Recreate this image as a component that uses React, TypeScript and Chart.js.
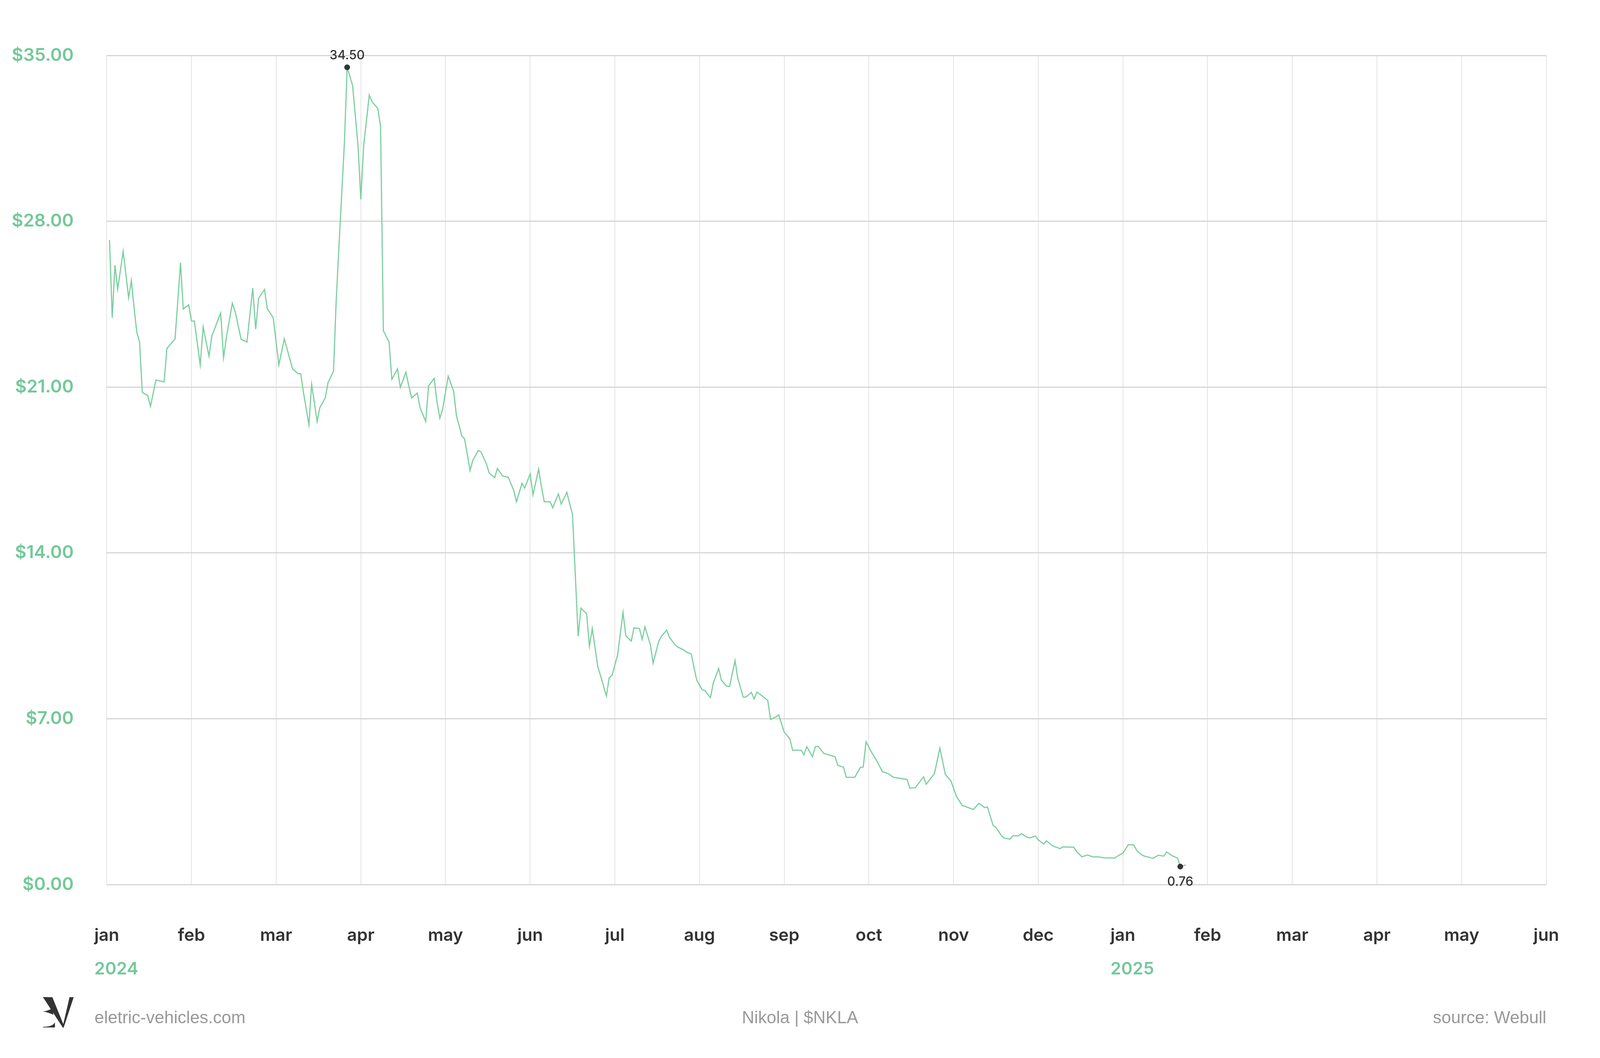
import { Chart, registerables } from 'chart.js';
import { useEffect, useRef } from 'react';

Chart.register(...registerables);

const monthLabels = ['jan', 'feb', 'mar', 'apr', 'may', 'jun', 'jul', 'aug', 'sep', 'oct', 'nov', 'dec', 'jan', 'feb', 'mar', 'apr', 'may', 'jun'];
const yearMonths = [0, 12];
const yearNames = ['2024', '2025'];
const priceTicks = [0, 7, 14, 21, 28, 35];

const dates = [
	'2024-01-02', '2024-01-03', '2024-01-04', '2024-01-05', '2024-01-07', '2024-01-09', '2024-01-10', '2024-01-11', '2024-01-12', '2024-01-13',
	'2024-01-14', '2024-01-16', '2024-01-17', '2024-01-19', '2024-01-22', '2024-01-23', '2024-01-26', '2024-01-28', '2024-01-29', '2024-01-31',
	'2024-02-01', '2024-02-02', '2024-02-04', '2024-02-05', '2024-02-07', '2024-02-08', '2024-02-11', '2024-02-12', '2024-02-13', '2024-02-15',
	'2024-02-16', '2024-02-18', '2024-02-20', '2024-02-22', '2024-02-23', '2024-02-24', '2024-02-26', '2024-02-27', '2024-02-29',
	'2024-03-01', '2024-03-02', '2024-03-04', '2024-03-07', '2024-03-09', '2024-03-10', '2024-03-11', '2024-03-13', '2024-03-14', '2024-03-16',
	'2024-03-17', '2024-03-19', '2024-03-20', '2024-03-22', '2024-03-23', '2024-03-24', '2024-03-25', '2024-03-26', '2024-03-27', '2024-03-29',
	'2024-03-31',
	'2024-04-01', '2024-04-02', '2024-04-04', '2024-04-05', '2024-04-07', '2024-04-08', '2024-04-09', '2024-04-11', '2024-04-12', '2024-04-14',
	'2024-04-15', '2024-04-17', '2024-04-18', '2024-04-19', '2024-04-21', '2024-04-22', '2024-04-24', '2024-04-25', '2024-04-27', '2024-04-28',
	'2024-04-29', '2024-04-30',
	'2024-05-02', '2024-05-04', '2024-05-05', '2024-05-07', '2024-05-08', '2024-05-10', '2024-05-11', '2024-05-13', '2024-05-14', '2024-05-16',
	'2024-05-17', '2024-05-19', '2024-05-20', '2024-05-22', '2024-05-24', '2024-05-26', '2024-05-27', '2024-05-29', '2024-05-30',
	'2024-06-01', '2024-06-02', '2024-06-04', '2024-06-05', '2024-06-06', '2024-06-08', '2024-06-09', '2024-06-11', '2024-06-12', '2024-06-14',
	'2024-06-15', '2024-06-16', '2024-06-18', '2024-06-19', '2024-06-21', '2024-06-22', '2024-06-23', '2024-06-25', '2024-06-26', '2024-06-28',
	'2024-06-29', '2024-06-30',
	'2024-07-02', '2024-07-04', '2024-07-05', '2024-07-07', '2024-07-08', '2024-07-10', '2024-07-11', '2024-07-12', '2024-07-14', '2024-07-15',
	'2024-07-17', '2024-07-18', '2024-07-20', '2024-07-21', '2024-07-23', '2024-07-24', '2024-07-26', '2024-07-27', '2024-07-29', '2024-07-30',
	'2024-07-31',
	'2024-08-02', '2024-08-03', '2024-08-05', '2024-08-06', '2024-08-08', '2024-08-09', '2024-08-11', '2024-08-12', '2024-08-14', '2024-08-15',
	'2024-08-17', '2024-08-18', '2024-08-20', '2024-08-21', '2024-08-22', '2024-08-24', '2024-08-26', '2024-08-27', '2024-08-29', '2024-08-30',
	'2024-09-01', '2024-09-03', '2024-09-04', '2024-09-07', '2024-09-08', '2024-09-09', '2024-09-11', '2024-09-12', '2024-09-13', '2024-09-15',
	'2024-09-19', '2024-09-20', '2024-09-22', '2024-09-23', '2024-09-26', '2024-09-28', '2024-09-29', '2024-09-30',
	'2024-10-02', '2024-10-04', '2024-10-06', '2024-10-08', '2024-10-10', '2024-10-15', '2024-10-16', '2024-10-18', '2024-10-21', '2024-10-22',
	'2024-10-25', '2024-10-27', '2024-10-29', '2024-10-31',
	'2024-11-01', '2024-11-02', '2024-11-04', '2024-11-08', '2024-11-10', '2024-11-12', '2024-11-13', '2024-11-15', '2024-11-16', '2024-11-18',
	'2024-11-19', '2024-11-21', '2024-11-22', '2024-11-24', '2024-11-25', '2024-11-27', '2024-11-28', '2024-11-30',
	'2024-12-01', '2024-12-03', '2024-12-04', '2024-12-06', '2024-12-07', '2024-12-09', '2024-12-10', '2024-12-14', '2024-12-15', '2024-12-17',
	'2024-12-19', '2024-12-21', '2024-12-23', '2024-12-25', '2024-12-29', '2024-12-30',
	'2025-01-01', '2025-01-03', '2025-01-05', '2025-01-06', '2025-01-08', '2025-01-09', '2025-01-11', '2025-01-12', '2025-01-14', '2025-01-16',
	'2025-01-17', '2025-01-19', '2025-01-21', '2025-01-22', '2025-01-24',
];

const prices = [
	27.21, 23.93, 26.15, 25.13, 26.73, 24.77, 25.5, 24.34, 23.31, 22.9,
	20.78, 20.64, 20.19, 21.3, 21.22, 22.63, 23.04, 26.25, 24.3, 24.47,
	23.79, 23.79, 21.94, 23.54, 22.31, 23.16, 24.13, 22.24, 23.13, 24.54,
	24.17, 23.02, 22.9, 25.18, 23.45, 24.75, 25.12, 24.3, 23.93,
	22.9, 21.94, 23.04, 21.77, 21.57, 21.57, 20.78, 19.41, 21.12, 19.55,
	20.13, 20.55, 21.19, 21.67, 24.68, 26.93, 29.12, 31.31, 34.5, 33.73,
	31.17,
	28.92, 31.17, 33.33, 33.04, 32.77, 32.02, 23.38, 22.9, 21.33, 21.77,
	20.99, 21.63, 21.05, 20.54, 20.75, 20.13, 19.55, 21.05, 21.37, 20.37,
	19.69, 20.07,
	21.46, 20.82, 19.8, 18.94, 18.81, 17.48, 17.91, 18.32, 18.27, 17.75,
	17.37, 17.18, 17.56, 17.24, 17.19, 16.63, 16.16, 16.94, 16.74,
	17.34, 16.45, 17.54, 16.79, 16.16, 16.16, 15.91, 16.49, 16.06, 16.56,
	16.07, 15.63, 10.48, 11.67, 11.43, 10.06, 10.81, 9.17, 8.8, 7.96,
	8.73, 8.83,
	9.69, 11.49, 10.51, 10.28, 10.84, 10.81, 10.35, 10.88, 10.13, 9.35,
	10.24, 10.48, 10.74, 10.44, 10.13, 10.03, 9.92, 9.83, 9.73, 9.14,
	8.63,
	8.22, 8.19, 7.89, 8.49, 9.12, 8.63, 8.37, 8.36, 9.46, 8.71,
	7.91, 7.92, 8.11, 7.84, 8.13, 7.96, 7.77, 6.97, 7.08, 7.16,
	6.44, 6.15, 5.67, 5.67, 5.48, 5.82, 5.4, 5.82, 5.84, 5.54,
	5.4, 5.03, 4.96, 4.53, 4.53, 4.95, 4.96, 6.03,
	5.58, 5.2, 4.76, 4.69, 4.53, 4.44, 4.07, 4.09, 4.55, 4.24,
	4.69, 5.76, 4.65, 4.38,
	4.07, 3.73, 3.35, 3.17, 3.43, 3.25, 3.28, 2.5, 2.41, 2.06,
	1.96, 1.92, 2.06, 2.06, 2.15, 2.0, 1.97, 2.05,
	1.89, 1.71, 1.85, 1.66, 1.6, 1.52, 1.59, 1.58, 1.4, 1.17,
	1.25, 1.17, 1.17, 1.13, 1.12, 1.2,
	1.33, 1.69, 1.67, 1.45, 1.24, 1.2, 1.14, 1.11, 1.24, 1.2,
	1.38, 1.22, 1.12, 0.76, 0.83,
];

const siteName = 'eletric-vehicles.com';
const chartTitle = 'Nikola | $NKLA';
const sourceText = 'source: Webull';

const GREEN = '#72c999';
const LINE_GREEN = '#7ccfa0';
const DARK = '#333333';

// the layout below was measured on a 6144 x 2709 frame
const BASE_W = 6144;
const BASE_H = 2709;

// position on the month axis: one unit per calendar month
function monthPosition(date: string) {
	const [y, m, d] = date.split('-').map(Number);
	const daysInMonth = new Date(y, m, 0).getDate();
	return (y - 2024) * 12 + (m - 1) + (d - 1) / daysInMonth;
}

const logoV = new Path2D('M0 0 L36 0 L80 108 L77 118 Z M102 0 L118 0 L79 118 L76 112 Z');
const logoE = new Path2D(
	'M0 55 Q22 52 34 43 L38 56 L40 68 Q22 58 0 55 Z M0 116 L46 116 L46 96 Q40 113 0 114 Z M0 0 L20 0 L20 2 Q10 2 0 2 Z'
);

function makeOverlay(sx: number, sy: number) {
	const s = Math.min(sx, sy);
	return {
		id: 'overlay',
		afterDraw(chart: Chart) {
			const { ctx, scales } = chart;
			const x = scales.x;
			const meta = chart.getDatasetMeta(0);
			const maxIdx = prices.indexOf(Math.max(...prices));
			const minIdx = prices.indexOf(Math.min(...prices));

			ctx.save();
			// max / min value labels
			ctx.fillStyle = DARK;
			ctx.font = `500 ${48 * s}px Inter`;
			ctx.textAlign = 'center';
			ctx.textBaseline = 'alphabetic';
			const top = meta.data[maxIdx];
			ctx.fillText(prices[maxIdx].toFixed(2), top.x, top.y - 20 * sy);
			const bottom = meta.data[minIdx];
			ctx.fillText(prices[minIdx].toFixed(2), bottom.x, bottom.y + 26 * sy + 35 * s);

			// year labels under the january ticks
			ctx.textAlign = 'left';
			ctx.font = `600 ${66 * s}px Inter`;
			yearMonths.forEach((m, i) => {
				const w = ctx.measureText(monthLabels[m]).width;
				ctx.fillStyle = GREEN;
				ctx.fillText(yearNames[i], x.getPixelForValue(m) - w / 2, x.top + 230 * sy);
			});

			// footer
			const baseY = 2620 * sy;
			ctx.fillStyle = '#999999';
			ctx.font = `${66 * s}px "Liberation Sans", Arial, sans-serif`;
			ctx.textAlign = 'left';
			ctx.fillText(siteName, 363 * sx, baseY);
			ctx.textAlign = 'center';
			ctx.fillText(chartTitle, chart.width / 2, baseY);
			ctx.textAlign = 'right';
			ctx.fillText(sourceText, chart.chartArea.right, baseY);

			// logo, bottom aligned with the footer line
			ctx.translate(165 * sx, 2632 * sy - 118 * s);
			ctx.scale(s, s);
			ctx.fillStyle = DARK;
			ctx.fill(logoV);
			ctx.fill(logoE);
			ctx.restore();
		},
	};
}

export default function App() {
	const canvasRef = useRef<HTMLCanvasElement | null>(null);
	const chartRef = useRef<Chart | null>(null);

	useEffect(() => {
		if (!canvasRef.current) return;
		if (chartRef.current) chartRef.current.destroy();

		document.body.style.margin = '0';
		const sx = window.innerWidth / BASE_W;
		const sy = window.innerHeight / BASE_H;
		const s = Math.min(sx, sy);

		const maxIdx = prices.indexOf(Math.max(...prices));
		const minIdx = prices.indexOf(Math.min(...prices));

		const xFont = 66 * s;

		chartRef.current = new Chart(canvasRef.current, {
			type: 'line',
			data: {
				datasets: [
					{
						label: 'NKLA',
						data: dates.map((d, i) => ({ x: monthPosition(d), y: prices[i] })),
						borderColor: LINE_GREEN,
						borderWidth: 4.5 * s,
						tension: 0,
						fill: false,
						pointRadius: (c: any) => (c.dataIndex === maxIdx || c.dataIndex === minIdx ? 11 * s : 0),
						pointBackgroundColor: DARK,
						pointBorderWidth: 0,
					},
				],
			},
			options: {
				animation: false,
				responsive: true,
				maintainAspectRatio: false,
				events: [],
				layout: { padding: { top: 142 * sy, right: 97 * sx, left: 0, bottom: 0 } },
				plugins: {
					legend: { display: false },
					tooltip: { enabled: false },
				},
				scales: {
					x: {
						type: 'linear',
						min: 0,
						max: monthLabels.length - 1,
						afterBuildTicks: (scale: any) => {
							scale.ticks = monthLabels.map((_, i) => ({ value: i }));
						},
						afterFit: (scale: any) => {
							scale.height = 444 * sy;
						},
						ticks: {
							autoSkip: false,
							maxRotation: 0,
							// puts the month baseline about 147px (reference frame) under the axis
							padding: 147 * sy - 0.96 * xFont,
							color: DARK,
							font: { family: 'Inter', size: xFont, weight: 600 },
							callback: (v: any) => monthLabels[Number(v)],
						},
						grid: { color: '#e4e4e4', lineWidth: 3 * s, drawTicks: false },
						border: { display: false },
					},
					y: {
						min: 0,
						max: 35,
						afterBuildTicks: (scale: any) => {
							scale.ticks = priceTicks.map((v) => ({ value: v }));
						},
						afterFit: (scale: any) => {
							scale.width = 410 * sx;
						},
						ticks: {
							padding: 127 * sx,
							color: GREEN,
							font: { family: 'Inter', size: 68 * s, weight: 600 },
							callback: (v: any) => '$' + Number(v).toFixed(2),
						},
						grid: { color: '#d2d2d2', lineWidth: 4 * s, drawTicks: false },
						border: { display: false },
					},
				},
			},
			plugins: [makeOverlay(sx, sy)],
		});

		return () => {
			if (chartRef.current) {
				chartRef.current.destroy();
				chartRef.current = null;
			}
		};
	}, []);

	return (
		<div style={{ position: 'relative', width: '100vw', height: '100vh', background: '#ffffff' }}>
			<canvas ref={canvasRef}></canvas>
		</div>
	);
}
